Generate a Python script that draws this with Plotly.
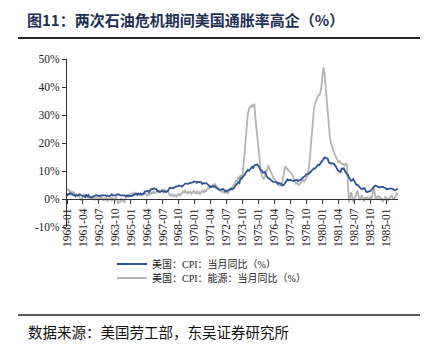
import plotly.graph_objects as go

# ---------------- data ----------------
years = list(range(1960, 1986))
months = [f"{y}-{m:02d}" for y in years for m in range(1, 13)]

cpi_yoy = [
    1.0, 1.7, 1.7, 2.1, 1.7, 1.7, 1.4, 1.4, 1.0, 1.4, 1.4, 1.4,      # 1960
    1.7, 1.4, 1.4, 1.0, 1.0, 0.7, 1.4, 1.0, 1.4, 0.7, 0.7, 0.7,      # 1961
    0.7, 1.0, 1.0, 1.3, 1.3, 1.3, 1.0, 1.3, 1.3, 1.3, 1.3, 1.3,      # 1962
    1.3, 1.0, 1.3, 1.0, 1.0, 1.3, 1.7, 1.3, 1.3, 1.3, 1.3, 1.6,      # 1963
    1.6, 1.6, 1.3, 1.3, 1.3, 1.3, 1.3, 1.0, 1.3, 1.0, 1.3, 1.0,      # 1964
    1.0, 1.0, 1.3, 1.6, 1.6, 1.9, 1.6, 1.9, 1.6, 1.9, 1.6, 1.9,      # 1965
    1.9, 2.6, 2.6, 2.9, 2.9, 2.5, 2.9, 3.5, 3.5, 3.8, 3.8, 3.5,      # 1966
    3.5, 2.8, 2.8, 2.5, 2.8, 2.8, 2.8, 2.5, 2.8, 2.5, 2.7, 3.0,      # 1967
    3.7, 4.0, 3.9, 3.9, 3.9, 4.2, 4.5, 4.5, 4.5, 4.8, 4.7, 4.7,      # 1968
    4.4, 4.7, 5.3, 5.5, 5.5, 5.5, 5.4, 5.7, 5.7, 5.7, 5.9, 6.2,      # 1969
    6.2, 6.2, 5.8, 6.1, 6.0, 6.0, 6.0, 5.4, 5.7, 5.6, 5.6, 5.6,      # 1970
    5.3, 5.0, 4.7, 4.2, 4.4, 4.6, 4.4, 4.6, 4.1, 3.8, 3.3, 3.3,      # 1971
    3.3, 3.5, 3.5, 3.5, 3.2, 2.7, 3.0, 2.9, 3.2, 3.4, 3.7, 3.4,      # 1972
    3.6, 3.9, 4.6, 5.1, 5.5, 6.0, 5.7, 7.4, 7.4, 7.8, 8.3, 8.7,      # 1973
    9.4, 10.0, 10.4, 10.1, 10.7, 10.9, 11.5, 10.9, 12.0, 12.1, 12.2, 12.3,  # 1974
    11.8, 11.2, 10.3, 10.2, 9.5, 9.4, 9.7, 8.6, 7.9, 7.4, 7.4, 6.9,  # 1975
    6.7, 6.3, 6.1, 6.1, 6.2, 6.0, 5.4, 5.7, 5.5, 5.5, 4.9, 4.9,      # 1976
    5.2, 5.9, 6.4, 7.0, 6.7, 6.9, 6.8, 6.6, 6.6, 6.4, 6.7, 6.7,      # 1977
    6.8, 6.4, 6.6, 6.5, 7.0, 7.4, 7.7, 7.9, 8.3, 8.9, 8.9, 9.0,      # 1978
    9.3, 9.9, 10.1, 10.5, 10.9, 10.9, 11.3, 11.8, 12.2, 12.1, 12.6, 13.3,  # 1979
    13.9, 14.2, 14.8, 14.7, 14.4, 14.4, 13.1, 12.9, 12.6, 12.8, 12.7, 12.5,  # 1980
    11.8, 11.4, 10.5, 10.0, 9.8, 9.6, 10.8, 10.8, 11.0, 10.1, 9.6, 8.9,  # 1981
    8.4, 7.6, 6.8, 6.5, 6.7, 7.1, 6.4, 5.9, 5.0, 5.1, 4.6, 3.8,      # 1982
    3.7, 3.5, 3.6, 3.9, 3.6, 2.6, 2.5, 2.6, 2.9, 2.9, 3.3, 3.8,      # 1983
    4.2, 4.6, 4.8, 4.6, 4.2, 4.2, 4.2, 4.3, 4.3, 4.3, 4.1, 4.0,      # 1984
    3.5, 3.5, 3.7, 3.7, 3.8, 3.8, 3.6, 3.4, 3.1, 3.2, 3.5, 3.8,      # 1985
]

energy_yoy = [
    3.8, 3.5, 2.6, 3.2, 2.4, 2.0, 2.6, 1.8, 1.2, 1.6, 0.9, 1.4,      # 1960
    0.6, -0.3, 0.2, 1.0, 1.8, 0.8, 1.5, 0.4, 0.9, 0.2, 0.5, 0.0,     # 1961
    0.3, 0.6, -0.4, 0.2, 0.8, -0.5, 0.4, -0.2, 1.0, 0.3, -0.6, 0.2,  # 1962
    -0.3, 0.5, -1.0, 0.2, -0.4, 0.6, -0.8, 0.3, 0.1, -0.6, 0.8, -0.2,  # 1963
    -1.8, -0.5, -1.2, 0.3, -0.9, -0.2, -1.4, 0.2, 0.9, 1.3, 0.8, 1.6,  # 1964
    1.8, 1.4, 2.0, 1.5, 2.2, 1.7, 1.3, 2.0, 1.6, 1.9, 1.3, 1.8,      # 1965
    1.6, 2.2, 1.7, 1.2, 1.9, 1.5, 2.3, 1.8, 2.4, 2.0, 2.6, 2.1,      # 1966
    2.5, 2.9, 2.4, 3.0, 2.6, 3.3, 2.8, 3.4, 2.9, 2.5, 3.0, 2.7,      # 1967
    1.8, 1.3, 1.6, 1.1, 1.5, 1.0, 1.4, 0.9, 1.6, 1.8, 1.2, 1.7,      # 1968
    2.1, 2.7, 2.3, 3.0, 2.4, 2.0, 2.8, 2.2, 2.6, 1.9, 2.5, 2.9,      # 1969
    2.3, 2.0, 2.7, 2.1, 2.5, 1.8, 2.4, 2.9, 2.3, 3.0, 2.6, 3.4,      # 1970
    3.6, 4.2, 3.8, 4.9, 4.4, 5.1, 4.6, 5.3, 4.8, 4.1, 3.7, 3.2,      # 1971
    3.0, 2.6, 2.9, 2.4, 2.2, 2.7, 2.3, 2.0, 2.5, 2.9, 3.3, 4.0,      # 1972
    4.5, 5.0, 5.8, 6.8, 6.2, 8.0, 7.2, 8.6, 6.8, 9.0, 12.5, 17.0,    # 1973
    22.0, 26.5, 30.6, 32.0, 33.0, 32.8, 33.5, 33.0, 34.0, 29.0, 25.0, 21.0,  # 1974
    17.0, 12.7, 10.5, 8.4, 7.6, 7.0, 8.0, 9.0, 10.5, 12.0, 11.0, 10.0,  # 1975
    9.5, 8.0, 7.5, 7.0, 6.2, 5.8, 5.4, 5.2, 4.8, 5.0, 5.6, 7.5,      # 1976
    9.5, 11.7, 11.2, 10.8, 10.4, 10.0, 9.6, 9.2, 8.5, 7.5, 6.5, 5.5,  # 1977
    5.8, 5.4, 5.0, 5.5, 6.0, 6.3, 6.7, 6.2, 6.8, 7.5, 8.5, 10.5,     # 1978
    14.0, 19.0, 24.0, 29.0, 32.0, 34.0, 35.5, 36.0, 37.0, 37.0, 38.0, 40.0,  # 1979
    44.0, 47.0, 45.0, 40.0, 35.0, 30.0, 25.0, 22.0, 20.0, 18.5, 17.5, 16.5,  # 1980
    15.6, 15.0, 14.0, 13.0, 13.5, 13.0, 12.8, 12.3, 12.5, 12.0, 12.6, 12.3,  # 1981
    5.0, -1.2, 0.5, 2.4, 0.6, -1.0, 0.0, 1.2, 2.0, 3.0, 1.0, -0.5,   # 1982
    0.5, 1.5, 0.3, -1.0, 0.6, 0.0, 0.8, -0.2, 0.2, 1.0, 0.0, 1.5,    # 1983
    4.8, 3.0, 0.0, 0.5, 1.0, 0.2, 1.0, -0.5, 0.3, -1.0, 0.0, 0.7,    # 1984
    0.5, 0.0, -0.4, 0.3, 0.8, 1.2, 0.4, -0.3, 0.5, 1.4, 2.0, 1.5,    # 1985
]

tick_labels = months[::15]
y_ticks = [-10, 0, 10, 20, 30, 40, 50]

title_text = "图11：两次石油危机期间美国通胀率高企（%）"
source_text = "数据来源：美国劳工部，东吴证券研究所"
name_cpi = "美国：CPI：当月同比（%）"
name_energy = "美国：CPI：能源：当月同比（%）"

# ---------------- figure ----------------
W, H = 426, 346
L, R, T, B = 67, 28, 59, 119
pw, ph = W - L - R, H - T - B

def px(x):  # pixel x -> paper
    return (x - L) / pw

def py(y):  # pixel y -> paper
    return (H - B - y) / ph

serif = "Liberation Serif, Noto Sans CJK SC"
cjk = "Noto Sans CJK SC"

fig = go.Figure()
fig.add_trace(go.Scatter(
    x=months, y=cpi_yoy, mode="lines", name=name_cpi,
    line=dict(color="#2F5597", width=1.8), legend="legend",
))
fig.add_trace(go.Scatter(
    x=months, y=energy_yoy, mode="lines", name=name_energy,
    line=dict(color="#B4B4B4", width=1.8), legend="legend2",
))
# keep CPI on top
fig.data = (fig.data[1], fig.data[0])

legend_common = dict(
    orientation="v", xanchor="left", yanchor="middle",
    font=dict(family=serif, size=10, color="#222"),
    bgcolor="rgba(0,0,0,0)", itemwidth=30,
)

fig.update_layout(
    width=W, height=H,
    margin=dict(l=L, r=R, t=T, b=B, pad=0),
    paper_bgcolor="white", plot_bgcolor="white",
    showlegend=True,
    legend=dict(x=px(112), y=py(264), **legend_common),
    legend2=dict(x=px(112), y=py(278), **legend_common),
    xaxis=dict(
        type="category", range=[0, len(months) - 1],
        tickmode="array", tickvals=tick_labels, ticktext=tick_labels,
        tickangle=-90, showgrid=False, zeroline=False,
        showline=True, linecolor="#333", linewidth=1,
        ticks="outside", ticklen=4, tickcolor="#333",
        tickfont=dict(family=serif, size=11.5, color="#222"),
        anchor="free", position=py(199),
    ),
    yaxis=dict(
        range=[-10, 50], tickmode="array", tickvals=y_ticks,
        ticktext=[f"{v}%" for v in y_ticks],
        showgrid=False, zeroline=False,
        showline=True, linecolor="#333", linewidth=1,
        ticks="outside", ticklen=4, tickcolor="#333",
        tickfont=dict(family=serif, size=11.5, color="#222"),
    ),
    title=dict(
        text=title_text, x=27 / W, xanchor="left", xref="paper" if False else "container",
        y=1 - 21 / H, yanchor="middle", yref="container",
        font=dict(family=cjk, size=15, color="#1F2F55", weight="bold"),
    ),
    shapes=[
        dict(type="line", xref="paper", yref="paper",
             x0=px(18), x1=px(420), y0=py(38), y1=py(38),
             line=dict(color="#222", width=2)),
        dict(type="line", xref="paper", yref="paper",
             x0=px(18), x1=px(420), y0=py(315), y1=py(315),
             line=dict(color="#222", width=1.5)),
    ],
    annotations=[
        dict(text=source_text, xref="paper", yref="paper",
             x=px(26), y=py(331), xanchor="left", yanchor="middle",
             showarrow=False, font=dict(family=cjk, size=14.5, color="#111")),
    ],
)

fig.write_html("out.html")
